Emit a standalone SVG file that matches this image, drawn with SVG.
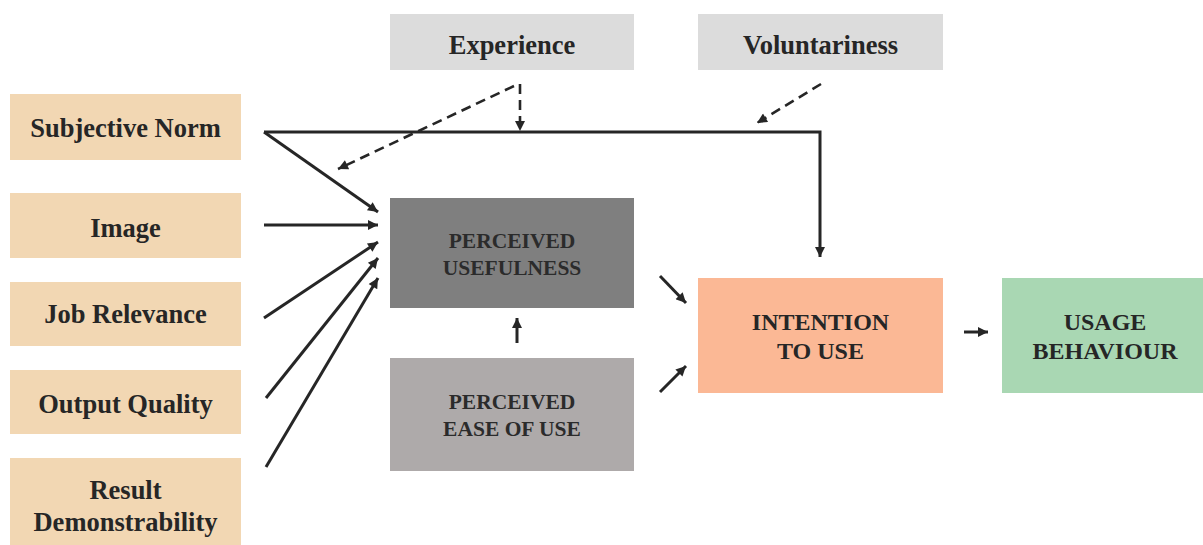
<svg xmlns="http://www.w3.org/2000/svg" width="1203" height="545" viewBox="0 0 1203 545">
<style>
.t{font-family:"Liberation Serif","Times New Roman",serif;font-weight:bold;fill:#262626;text-anchor:middle}
.l{font-size:26.5px}
.c{font-size:21.5px;fill:#2b2b2b}
.b{font-size:24px}
.src{fill:#f2d7b3}
.mod{fill:#dcdcdc}
.ln{stroke:#262626;stroke-width:3;fill:none}
.ds{stroke:#262626;stroke-width:2.6;fill:none;stroke-dasharray:10 6}
</style>
<defs>
<marker id="ah" viewBox="0 0 10 10" refX="10" refY="5" markerWidth="13" markerHeight="10" markerUnits="userSpaceOnUse" orient="auto">
<path d="M0,0 L10,5 L0,10 z" fill="#262626"/>
</marker>
</defs>
<g id="subjective-norm"><rect class="src" x="10" y="94" width="231" height="66"/><text class="t l" x="125.5" y="137">Subjective Norm</text></g>
<g id="image"><rect class="src" x="10" y="193" width="231" height="65"/><text class="t l" x="125.5" y="237">Image</text></g>
<g id="job-relevance"><rect class="src" x="10" y="282" width="231" height="64"/><text class="t l" x="125.5" y="323">Job Relevance</text></g>
<g id="output-quality"><rect class="src" x="10" y="370" width="231" height="64"/><text class="t l" x="125.5" y="413">Output Quality</text></g>
<g id="result-demonstrability"><rect class="src" x="10" y="458" width="231" height="90"/><text class="t l" x="125.5" y="499">Result</text><text class="t l" x="125.5" y="531">Demonstrability</text></g>
<g id="experience"><rect class="mod" x="390" y="14" width="244" height="56"/><text class="t l" x="512" y="54">Experience</text></g>
<g id="voluntariness"><rect class="mod" x="698" y="14" width="245" height="56"/><text class="t l" x="820.5" y="54">Voluntariness</text></g>
<g id="perceived-usefulness"><rect x="390" y="198" width="244" height="110" fill="#7f7f7f"/><text class="t c" x="512" y="248">PERCEIVED</text><text class="t c" x="512" y="275">USEFULNESS</text></g>
<g id="perceived-ease"><rect x="390" y="358" width="244" height="113" fill="#aeaaaa"/><text class="t c" x="512" y="409">PERCEIVED</text><text class="t c" x="512" y="436">EASE OF USE</text></g>
<g id="intention"><rect x="698" y="278" width="245" height="115" fill="#fbb895"/><text class="t b" x="820.5" y="330">INTENTION</text><text class="t b" x="820.5" y="359">TO USE</text></g>
<g id="usage"><rect x="1002" y="278" width="201" height="115" fill="#a9d7b3"/><text class="t b" x="1105" y="330">USAGE</text><text class="t b" x="1105" y="359">BEHAVIOUR</text></g>
<g id="connectors">
<polyline class="ln" points="264,132 820,132 820,257" marker-end="url(#ah)"/>
<line class="ln" x1="264" y1="132" x2="378" y2="212" marker-end="url(#ah)"/>
<line class="ln" x1="264" y1="225" x2="378" y2="225" marker-end="url(#ah)"/>
<line class="ln" x1="264" y1="318" x2="378" y2="242" marker-end="url(#ah)"/>
<line class="ln" x1="266" y1="398" x2="378" y2="258" marker-end="url(#ah)"/>
<line class="ln" x1="266" y1="467" x2="378" y2="278" marker-end="url(#ah)"/>
<polyline class="ds" points="520,84 520,131" marker-end="url(#ah)"/>
<line class="ds" x1="514" y1="86" x2="338" y2="169" marker-end="url(#ah)"/>
<line class="ds" x1="821" y1="84" x2="757" y2="123" marker-end="url(#ah)"/>
<line class="ln" x1="517" y1="343" x2="517" y2="318" marker-end="url(#ah)"/>
<line class="ln" x1="660" y1="276" x2="686" y2="303" marker-end="url(#ah)"/>
<line class="ln" x1="660" y1="392" x2="686" y2="366" marker-end="url(#ah)"/>
<line class="ln" x1="964" y1="332" x2="988" y2="332" marker-end="url(#ah)"/>
</g>
</svg>
